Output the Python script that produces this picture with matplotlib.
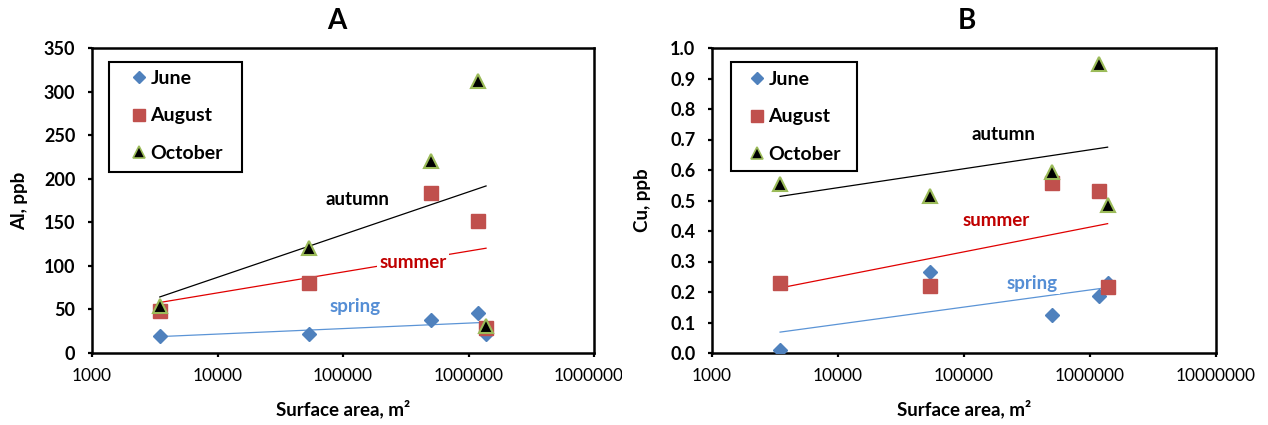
import numpy as np
import matplotlib
matplotlib.use('Agg')
import matplotlib.pyplot as plt
from matplotlib.patches import Rectangle
from matplotlib.transforms import Bbox
from matplotlib.ticker import FixedLocator, FuncFormatter, NullLocator
from matplotlib.lines import Line2D

plt.rcParams['font.family'] = ['Lato', 'DejaVu Sans']

# ---------------- data ----------------
area = [3470, 53500, 500000, 1180000, 1380000]
al_june = [20, 22, 37.5, 46, 22]
al_august = [48, 80, 184, 152, 29]
al_october = [54, 120, 220, 312, 31]
cu_june = [0.01, 0.264, 0.126, 0.188, 0.231]
cu_august = [0.231, 0.219, 0.557, 0.530, 0.217]
cu_october = [0.555, 0.515, 0.592, 0.946, 0.486]
series_names = ['June', 'August', 'October']
trend_names = ['spring', 'summer', 'autumn']
x_ticks = [1000, 10000, 100000, 1000000, 10000000]
al_ticks = [0, 50, 100, 150, 200, 250, 300, 350]
cu_ticks = [0.0, 0.1, 0.2, 0.3, 0.4, 0.5, 0.6, 0.7, 0.8, 0.9, 1.0]

# ---------------- styles ----------------
W, H = 1268, 425
fig = plt.figure(figsize=(W / 100, H / 100), dpi=100)
fig.patch.set_facecolor('white')

c_june = '#4F81BD'
c_aug = '#C0504D'
c_oct_edge = '#9BBB59'
trend_colors = ['#5B94D6', '#E00000', '#000000']
label_colors = ['#558ED5', '#C00000', '#000000']

def px_axes(x0, y0, x1, y1):
    return fig.add_axes([x0 / W, (H - y1) / H, (x1 - x0) / W, (y1 - y0) / H])

def draw_panel(ax, june, aug, octo, ymax, yticks, yfmt, ylabel, label_pos,
               legend_frame, legend_anchor):
    x = np.array(area, dtype=float)
    lx = np.log10(x)
    xs = np.array([x.min(), x.max()])
    # trendlines (logarithmic fits)
    for ys, col in zip([june, aug, octo], trend_colors):
        a, b = np.polyfit(lx, np.array(ys, dtype=float), 1)
        ax.plot(xs, a * np.log10(xs) + b, color=col, lw=0.9, zorder=1)
    # season labels with white boxes (cover the lines as in the original)
    for name, col, pos in zip(trend_names, label_colors, label_pos):
        ax.text(pos[0], pos[1], name, transform=ax.transAxes, color=col,
                fontsize=13.5, fontweight='bold', ha='center', va='center',
                zorder=1.5,
                bbox=dict(boxstyle='square,pad=0.12', fc='white', ec='none'))
    # markers
    ax.plot(area, june, 'D', color=c_june, ms=7.3, mec=c_june, ls='none', zorder=3)
    ax.plot(area, aug, 's', color=c_aug, ms=10.5, mec=c_aug, ls='none', zorder=3)
    ax.plot(area, octo, '^', color='black', ms=10.5, mec=c_oct_edge, mew=1.5,
            ls='none', zorder=3)

    ax.set_xscale('log')
    ax.set_xlim(x_ticks[0], x_ticks[-1])
    ax.set_ylim(0, ymax)
    ax.xaxis.set_major_locator(FixedLocator(x_ticks))
    ax.xaxis.set_minor_locator(NullLocator())
    ax.xaxis.set_major_formatter(FuncFormatter(lambda v, p: '%d' % round(v)))
    ax.yaxis.set_major_locator(FixedLocator(yticks))
    ax.yaxis.set_major_formatter(FuncFormatter(yfmt))
    for s in ax.spines.values():
        s.set_linewidth(1.8)
        s.set_color('black')
    ax.tick_params(axis='both', direction='out', length=3, width=1.6, color='black')
    ax.tick_params(axis='y', pad=9, labelsize=13)
    ax.tick_params(axis='x', pad=8, labelsize=12.5)
    for t in ax.get_yticklabels():
        t.set_fontweight('bold')
    ax.set_ylabel(ylabel, fontsize=13.5, fontweight='bold', va='center')
    ax.set_xlabel('Surface area, m²', fontsize=13.5, fontweight='bold', va='center')

    # legend frame + entries
    fx0, fy0, fx1, fy1 = legend_frame
    bb = ax.get_position()
    ax.add_patch(Rectangle(((fx0 / W - bb.x0) / bb.width, ((H - fy1) / H - bb.y0) / bb.height),
                           (fx1 - fx0) / W / bb.width, (fy1 - fy0) / H / bb.height,
                           transform=ax.transAxes, fill=True, fc='white', ec='black',
                           lw=1.5, zorder=4))
    handles = [
        Line2D([], [], marker='D', color=c_june, mec=c_june, ms=5.8, ls='none'),
        Line2D([], [], marker='s', color=c_aug, mec=c_aug, ms=8.4, ls='none'),
        Line2D([], [], marker='^', color='black', mec=c_oct_edge, mew=1.2, ms=8.4, ls='none'),
    ]
    ax_x = (legend_anchor[0] / W - bb.x0) / bb.width
    ax_y = ((H - legend_anchor[1]) / H - bb.y0) / bb.height
    leg = ax.legend(handles, series_names, loc='upper left', bbox_to_anchor=(ax_x, ax_y),
                    frameon=False, borderpad=0, borderaxespad=0, handlelength=0.85,
                    handletextpad=0.15, labelspacing=1.05,
                    prop={'weight': 'bold', 'size': 14})
    leg.set_zorder(5)

axA = px_axes(92, 48, 594, 353)
axB = px_axes(712, 48, 1216, 353)

draw_panel(axA, al_june, al_august, al_october, 350, al_ticks,
           lambda v, p: '%d' % round(v), 'Al, ppb',
           [(0.524, 0.151), (0.639, 0.298), (0.528, 0.502)],
           (109, 62, 242, 172), (131, 70))
draw_panel(axB, cu_june, cu_august, cu_october, 1.0, cu_ticks,
           lambda v, p: '%.1f' % v, 'Cu, ppb',
           [(0.635, 0.228), (0.563, 0.436), (0.579, 0.715)],
           (731, 62, 857, 171), (749, 71))

axA.yaxis.set_label_coords((20 - 92) / 502, 0.5)
axB.yaxis.set_label_coords((643 - 712) / 504, 0.5)
axA.xaxis.set_label_coords(0.5, -(409 - 353) / 305)
axB.xaxis.set_label_coords(0.5, -(409 - 353) / 305)

fig.text(337 / W, 1 - 21 / H, 'A', fontsize=20, fontweight='bold', ha='center', va='center')
fig.text(967 / W, 1 - 21 / H, 'B', fontsize=20, fontweight='bold', ha='center', va='center')

# the last tick label of panel A is cut off at the panel edge in the original
fig.canvas.draw()
lab = axA.xaxis.get_major_ticks()[-1].label1
lab.set_clip_box(Bbox.from_extents(0, 0, 622, H))
lab.set_clip_on(True)

fig.savefig('out.png', dpi=100, facecolor='white')
